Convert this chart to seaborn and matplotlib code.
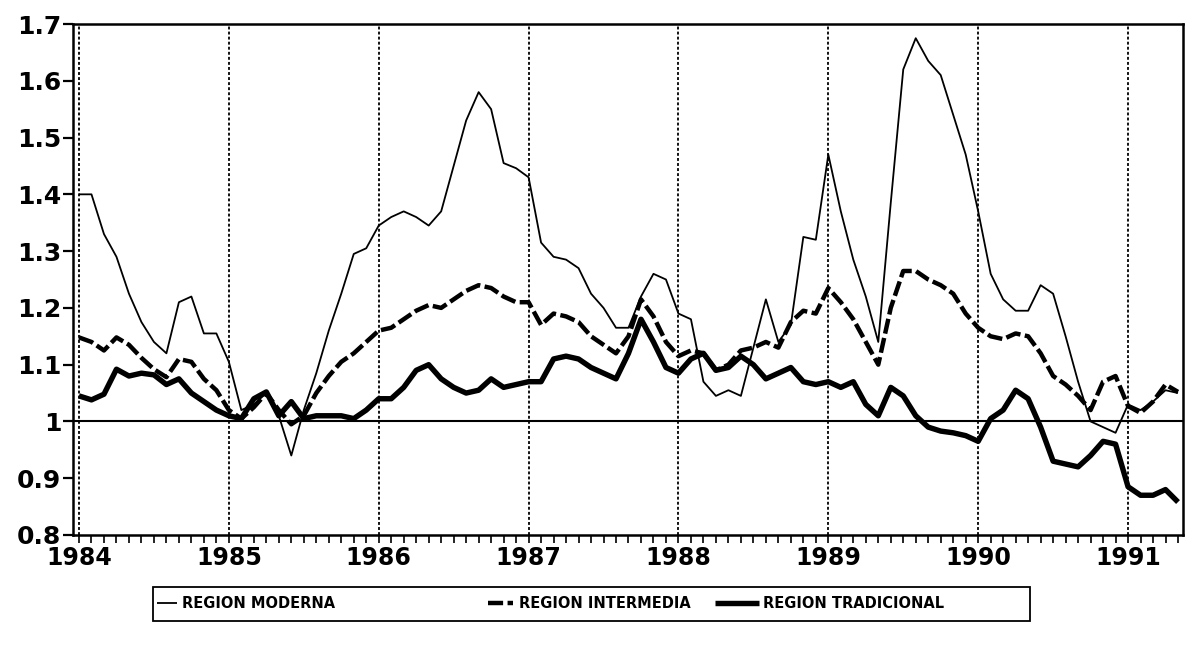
import numpy as np
import pandas as pd
import matplotlib
matplotlib.use("Agg")
import matplotlib.pyplot as plt
import seaborn as sns
from matplotlib.ticker import MultipleLocator, FuncFormatter
from matplotlib.patches import Rectangle

# ---------------- data (monthly, Jan 1984 - May 1991) ----------------
start_year = 1984
series_names = ["REGION MODERNA", "REGION INTERMEDIA", "REGION TRADICIONAL"]

moderna = [1.40, 1.40, 1.33, 1.29, 1.225, 1.175, 1.14, 1.12, 1.21, 1.22, 1.155, 1.155,
           1.105, 1.02, 1.03, 1.05, 1.01, 0.94, 1.02, 1.085, 1.16, 1.225, 1.295, 1.305,
           1.345, 1.36, 1.37, 1.36, 1.345, 1.37, 1.45, 1.53, 1.58, 1.55, 1.455, 1.446,
           1.43, 1.315, 1.29, 1.285, 1.27, 1.225, 1.20, 1.165, 1.165, 1.22, 1.26, 1.25,
           1.19, 1.18, 1.07, 1.045, 1.055, 1.045, 1.13, 1.215, 1.14, 1.17, 1.325, 1.32,
           1.47, 1.37, 1.285, 1.22, 1.14, 1.385, 1.62, 1.675, 1.635, 1.61, 1.54, 1.47,
           1.37, 1.26, 1.215, 1.195, 1.195, 1.24, 1.225, 1.15, 1.07, 1.00, 0.99, 0.98,
           1.03, 1.02, 1.035, 1.055, 1.05]

intermedia = [1.148, 1.14, 1.125, 1.148, 1.135, 1.112, 1.092, 1.078, 1.11, 1.105, 1.075, 1.055,
              1.02, 1.005, 1.025, 1.05, 1.02, 0.995, 1.01, 1.05, 1.08, 1.105, 1.12, 1.14,
              1.16, 1.165, 1.18, 1.195, 1.205, 1.20, 1.215, 1.23, 1.24, 1.235, 1.22, 1.21,
              1.21, 1.17, 1.19, 1.185, 1.175, 1.15, 1.135, 1.12, 1.15, 1.215, 1.185, 1.14,
              1.115, 1.125, 1.12, 1.09, 1.10, 1.125, 1.13, 1.14, 1.13, 1.175, 1.195, 1.19,
              1.235, 1.21, 1.18, 1.14, 1.10, 1.20, 1.265, 1.265, 1.25, 1.24, 1.225, 1.19,
              1.165, 1.15, 1.145, 1.155, 1.15, 1.12, 1.08, 1.065, 1.045, 1.02, 1.07, 1.08,
              1.027, 1.015, 1.035, 1.065, 1.052]

tradicional = [1.045, 1.038, 1.048, 1.092, 1.08, 1.085, 1.082, 1.065, 1.075, 1.05, 1.035, 1.02,
               1.01, 1.005, 1.04, 1.052, 1.01, 1.035, 1.005, 1.01, 1.01, 1.01, 1.005, 1.02,
               1.04, 1.04, 1.06, 1.09, 1.10, 1.075, 1.06, 1.05, 1.055, 1.075, 1.06, 1.065,
               1.07, 1.07, 1.11, 1.115, 1.11, 1.095, 1.085, 1.075, 1.12, 1.18, 1.14, 1.095,
               1.085, 1.11, 1.12, 1.09, 1.095, 1.115, 1.10, 1.075, 1.085, 1.095, 1.07, 1.065,
               1.07, 1.06, 1.07, 1.03, 1.01, 1.06, 1.045, 1.01, 0.99, 0.983, 0.98, 0.975,
               0.965, 1.005, 1.02, 1.055, 1.04, 0.99, 0.93, 0.925, 0.92, 0.94, 0.965, 0.96,
               0.885, 0.87, 0.87, 0.88, 0.858]

year_ticks = list(range(1984, 1992))
y_ticks = [0.8, 0.9, 1.0, 1.1, 1.2, 1.3, 1.4, 1.5, 1.6, 1.7]

# ---------------- frame ----------------
t = start_year + np.arange(len(moderna)) / 12.0
df = pd.DataFrame({"t": t,
                   series_names[0]: moderna,
                   series_names[1]: intermedia,
                   series_names[2]: tradicional})
long = df.melt(id_vars="t", var_name="serie", value_name="valor")

sns.set_theme(style="ticks")
plt.rcParams["font.family"] = ["DejaVu Sans"]
plt.rcParams["text.color"] = "black"

W, H = 1185, 647
fig = plt.figure(figsize=(W / 100, H / 100), dpi=100)
fig.patch.set_facecolor("white")
ax = fig.add_axes([73 / W, 1 - 535 / H, 1110 / W, 511 / H])
ax.set_facecolor("white")

# year separators and reference line
for yr in year_ticks:
    ax.axvline(yr, color="black", lw=1.3, linestyle=(0, (1.6, 1.2)), zorder=1)
ax.axhline(1.0, color="black", lw=1.5, zorder=2)

styles = {
    series_names[0]: dict(lw=1.3, dashes=None),
    series_names[1]: dict(lw=3.2, dashes=[3.4, 1.0]),
    series_names[2]: dict(lw=3.9, dashes=None),
}
handles = []
for name in series_names:
    sub = long[long["serie"] == name]
    sns.lineplot(data=sub, x="t", y="valor", ax=ax, color="black",
                 linewidth=styles[name]["lw"], estimator=None, legend=False,
                 zorder=3)
    line = ax.lines[-1]
    if styles[name]["dashes"] is not None:
        line.set_dashes(styles[name]["dashes"])
    line.set_solid_capstyle("butt")
    line.set_label(name)
    handles.append(line)

# ---------------- axes ----------------
ax.set_xlim(1984 - 0.48 / 12, 1984 + 88.4 / 12)
ax.set_ylim(0.8, 1.7)
ax.set_xticks(year_ticks)
ax.set_xticklabels([str(y) for y in year_ticks])
ax.xaxis.set_minor_locator(MultipleLocator(1 / 12))
ax.set_yticks(y_ticks)
ax.yaxis.set_major_formatter(FuncFormatter(lambda v, _: f"{v:g}"))
ax.set_xlabel("")
ax.set_ylabel("")

ax.tick_params(axis="x", which="both", direction="out", bottom=True, top=False,
               length=6, width=1.2, color="black", pad=2)
ax.tick_params(axis="y", which="major", direction="out", left=True, right=False,
               length=7, width=1.6, color="black", pad=1.5)
for lab in ax.get_xticklabels():
    lab.set_fontsize(17)
    lab.set_fontweight("bold")
    lab.set_color("black")
for lab in ax.get_yticklabels():
    lab.set_fontsize(18)
    lab.set_fontweight("bold")
    lab.set_color("black")
for sp in ax.spines.values():
    sp.set_visible(True)
    sp.set_color("black")
    sp.set_linewidth(1.8)

# ---------------- legend (boxed, below the plot) ----------------
box_l, box_r, box_t, box_b = 153, 1030, 587, 621
fig.add_artist(Rectangle((box_l / W, 1 - box_b / H), (box_r - box_l) / W,
                         (box_b - box_t) / H, transform=fig.transFigure,
                         fill=False, edgecolor="black", lw=1.3))
text_y = 1 - 604 / H
entry_pos = [(157, 1.4, 0.3), (488, 1.7, 0.4), (715, 3.0, 0.3)]
for h, (px, hl, tp) in zip(handles, entry_pos):
    leg = fig.legend(handles=[h], labels=[h.get_label()], loc="center left",
                     bbox_to_anchor=(px / W, text_y), frameon=False,
                     handlelength=hl, handletextpad=tp, borderpad=0,
                     borderaxespad=0,
                     prop=dict(size=10.5, weight="bold", family="DejaVu Sans"))
    for txt in leg.get_texts():
        txt.set_color("black")

fig.savefig("out.png", dpi=100, facecolor="white")
